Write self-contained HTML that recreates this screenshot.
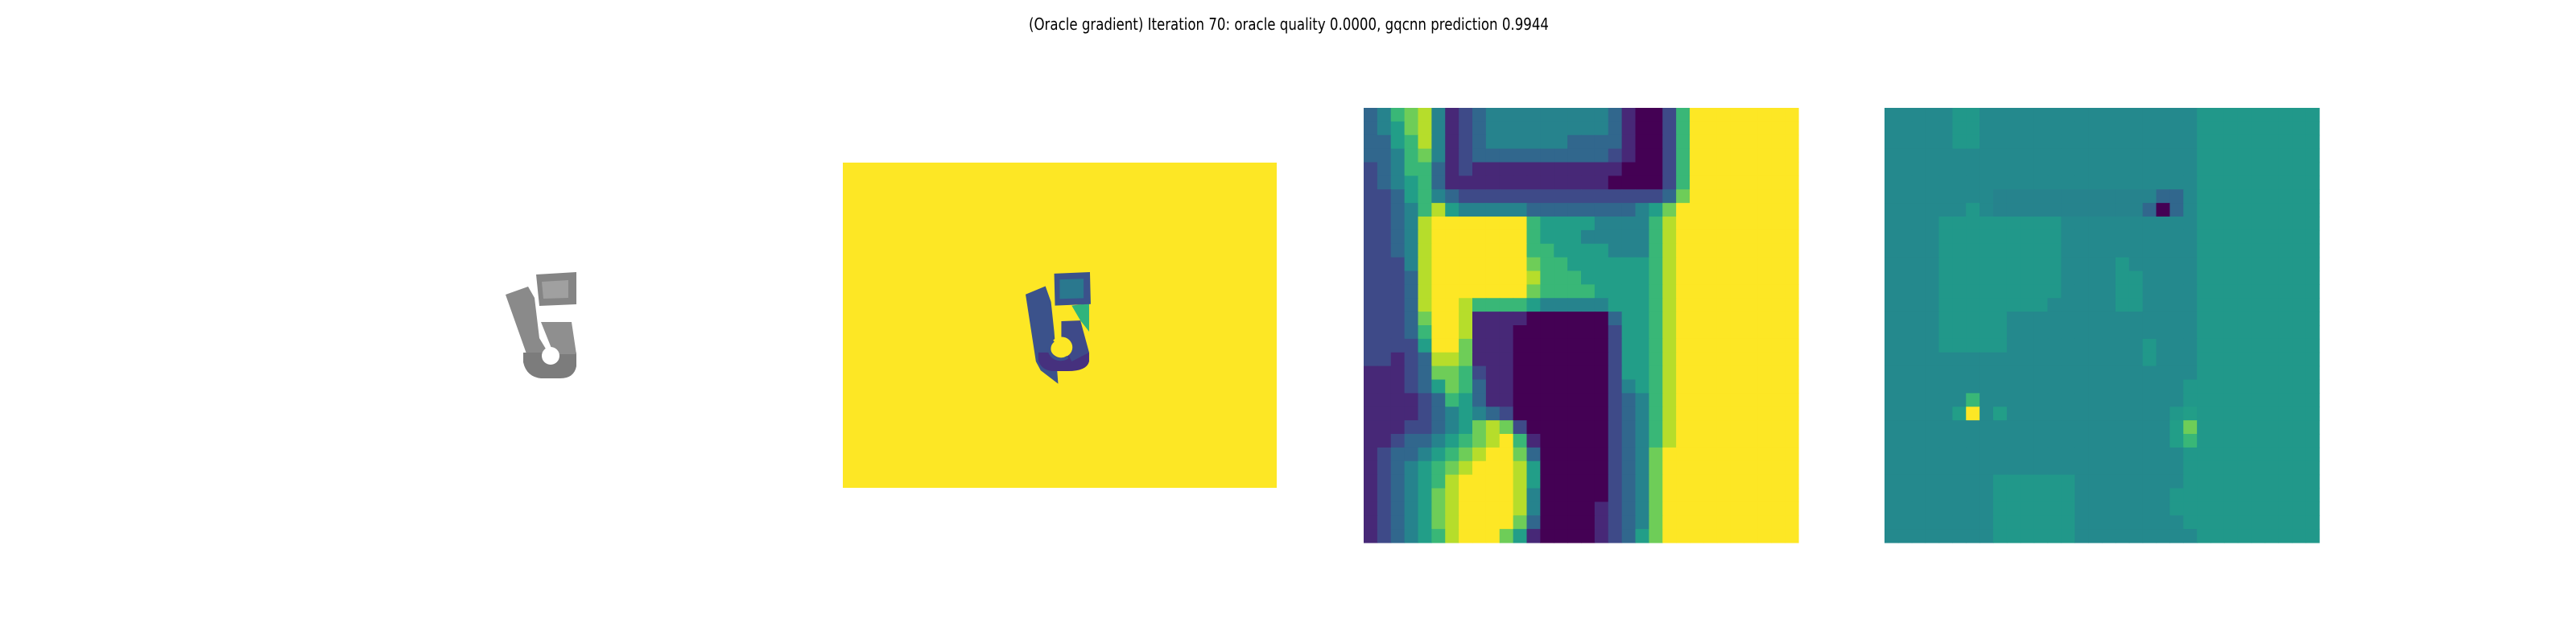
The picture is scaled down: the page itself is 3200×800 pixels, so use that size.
<!DOCTYPE html>
<html><head><meta charset="utf-8"><style>
html,body{margin:0;padding:0;background:#fff;}
svg{display:block;}
</style></head><body>
<svg id="fig" width="3200" height="800" viewBox="0 0 3200 800" xmlns="http://www.w3.org/2000/svg">
<rect width="3200" height="800" fill="#fff"/>
<text x="1601" y="37" font-family="DejaVu Sans, Liberation Sans, sans-serif" font-size="20" text-anchor="middle" textLength="646" lengthAdjust="spacingAndGlyphs" fill="#000">(Oracle gradient) Iteration 70: oracle quality 0.0000, gqcnn prediction 0.9944</text>

<g>
  <polygon points="628,366 656,356 664,370 670,420 682,440 678,468 662,462" fill="#8a8a8a"/>
  <path d="M650,438 L716,438 L716,455 Q713,470 696,470 L672,470 Q654,468 650,450 Z" fill="#7c7c7c"/>
  <polygon points="672,400 710,400 716,440 688,440" fill="#8f8f8f"/>
  <polygon points="666,341 716,338 716,378 670,380" fill="#858585"/>
  <polygon points="673,350 706,348 706,370 675,371" fill="#a0a0a0"/>
  <circle cx="684" cy="442" r="11" fill="#fff"/>
</g>

<g>
  <rect x="1047" y="202" width="539" height="404" fill="#fde725"/>
  <g transform="translate(1047,202) scale(0.987,0.925) translate(-1047,-203)">
  <polygon points="1277,380 1302,369 1309,390 1313,430 1318,500 1296,482 1290,470" fill="#3b528b"/>
  <path d="M1293,458 L1357,458 L1357,470 Q1354,483 1330,483 L1310,483 Q1296,481 1293,468 Z" fill="#46317e"/>
  <polygon points="1322,416 1346,415 1357,458 1335,470 1322,440" fill="#3e4a89"/>
  <polygon points="1335,395 1357,392 1357,430 1346,415" fill="#2fb47c"/>
  <polygon points="1313,352 1358,350 1359,393 1314,395" fill="#3b528b"/>
  <polygon points="1320,360 1350,359 1350,385 1320,386" fill="#2a788e"/>
  <circle cx="1322" cy="451" r="14" fill="#fde725"/>
  <path d="M1312,442 A14,14 0 0,0 1330,464" stroke="#3b528b" stroke-width="4" fill="none"/>
  </g>
</g>

<g id="p3"></g>
<g id="p4"></g>
</svg>
<script>
// Panel 3: depth crop, 32x32, values on 0-9 scale (viridis)
const depthRows = [
"34678412344444444431002699999999",
"34578412344444444431002699999999",
"33568412344444433331002699999999",
"33467412333333333321002699999999",
"23466312111111111110002699999999",
"23456311111111111100002699999999",
"22356432222222222222223799999999",
"22346854444433333333457999999999",
"22348999999965555444468999999999",
"22348999999965554444468999999999",
"22348999999966555544468999999999",
"22248999999976655555568999999999",
"22238999999986665555568999999999",
"22238999999976666555568999999999",
"22238998666654444455568999999999",
"22237998111100000035568999999999",
"22236998111000000025568999999999",
"22225997111000000025568999999999",
"22123887111000000025568999999999",
"11123776211000000025568999999999",
"11123576311000000024568999999999",
"11112365311000000023468999999999",
"11112345432000000023468999999999",
"11122345787200000023468999999999",
"11233456789610000023468999999999",
"12334567899730000023479999999999",
"12345678999850000023479999999999",
"12345689999850000023479999999999",
"12345789999840000023479999999999",
"12345789999840000123479999999999",
"12345789999730000123479999999999",
"12345689997510000123579999999999"
];
// Panel 4: gradient map, 32x32; 'm' = mid teal, 'g' = greener teal, digits on 0-9 scale
const gradRows = [
"mmmmmggmmmmmmmmmmmmmmmmggggggggg",
"mmmmmggmmmmmmmmmmmmmmmmggggggggg",
"mmmmmggmmmmmmmmmmmmmmmmggggggggg",
"mmmmmmmmmmmmmmmmmmmmmmmggggggggg",
"mmmmmmmmmmmmmmmmmmmmmmmggggggggg",
"mmmmmmmmmmmmmmmmmmmmmmmggggggggg",
"mmmmmmmm44444444444433mggggggggg",
"mmmmmmgm44444444444303mggggggggg",
"mmmmgggggggggmmmmmmmmmmggggggggg",
"mmmmgggggggggmmmmmmmmmmggggggggg",
"mmmmgggggggggmmmmmmmmmmggggggggg",
"mmmmgggggggggmmmmgmmmmmggggggggg",
"mmmmgggggggggmmmmggmmmmggggggggg",
"mmmmgggggggggmmmmggmmmmggggggggg",
"mmmmggggggggmmmmmggmmmmggggggggg",
"mmmmgggggmmmmmmmmmmmmmmggggggggg",
"mmmmgggggmmmmmmmmmmmmmmggggggggg",
"mmmmgggggmmmmmmmmmmgmmmggggggggg",
"mmmmmmmmmmmmmmmmmmmgmmmggggggggg",
"mmmmmmmmmmmmmmmmmmmmmmmggggggggg",
"mmmmmmmmmmmmmmmmmmmmmmgggggggggg",
"mmmmmm6mmmmmmmmmmmmmmmgggggggggg",
"mmmmm59m5mmmmmmmmmmmmg5ggggggggg",
"mmmmmmmmmmmmmmmmmmmmm57ggggggggg",
"mmmmmmmmmmmmmmmmmmmmm56ggggggggg",
"mmmmmmmmmmmmmmmmmmmmmmgggggggggg",
"mmmmmmmmmmmmmmmmmmmmmmgggggggggg",
"mmmmmmmmggggggmmmmmmmmgggggggggg",
"mmmmmmmmggggggmmmmmmmggggggggggg",
"mmmmmmmmggggggmmmmmmmggggggggggg",
"mmmmmmmmggggggmmmmmmmmgggggggggg",
"mmmmmmmmggggggmmmmmmmmmggggggggg"
];
const viridis = ["#440154","#482475","#414487","#355f8d","#2a788e","#21918c","#22a884","#44bf70","#7ad151","#bddf26","#fde725"];
function hex2(c){return [parseInt(c.slice(1,3),16),parseInt(c.slice(3,5),16),parseInt(c.slice(5,7),16)];}
function cmap(t){
  t=Math.max(0,Math.min(1,t));
  const f=t*10, i=Math.min(9,Math.floor(f)), r=f-i;
  const a=hex2(viridis[i]), b=hex2(viridis[i+1]);
  return "rgb("+a.map((v,k)=>Math.round(v+(b[k]-v)*r)).join(",")+")";
}
function charVal(ch){
  if(ch==='m') return 0.47;
  if(ch==='g') return 0.53;
  return parseInt(ch,10)/9;
}
const NS="http://www.w3.org/2000/svg";
function drawGrid(gid, rows, x0, y0, size, name){
  const g=document.getElementById(gid);
  const n=rows.length, cs=size/n;
  const xScale=c=>x0+c*cs, yScale=r=>y0+r*cs;
  rows.forEach((row,r)=>{
    for(let c=0;c<row.length;c++){
      const el=document.createElementNS(NS,"rect");
      
      
      el.setAttribute("x",xScale(c).toFixed(2));
      el.setAttribute("y",yScale(r).toFixed(2));
      el.setAttribute("width",(cs+0.6).toFixed(2));
      el.setAttribute("height",(cs+0.6).toFixed(2));
      el.setAttribute("fill",cmap(charVal(row[c])));
      g.appendChild(el);
    }
  });
}
drawGrid("p3", depthRows, 1694, 134, 540, "depth-cell");
drawGrid("p4", gradRows, 2341, 134, 540, "gradient-cell");
</script>
</body></html>
